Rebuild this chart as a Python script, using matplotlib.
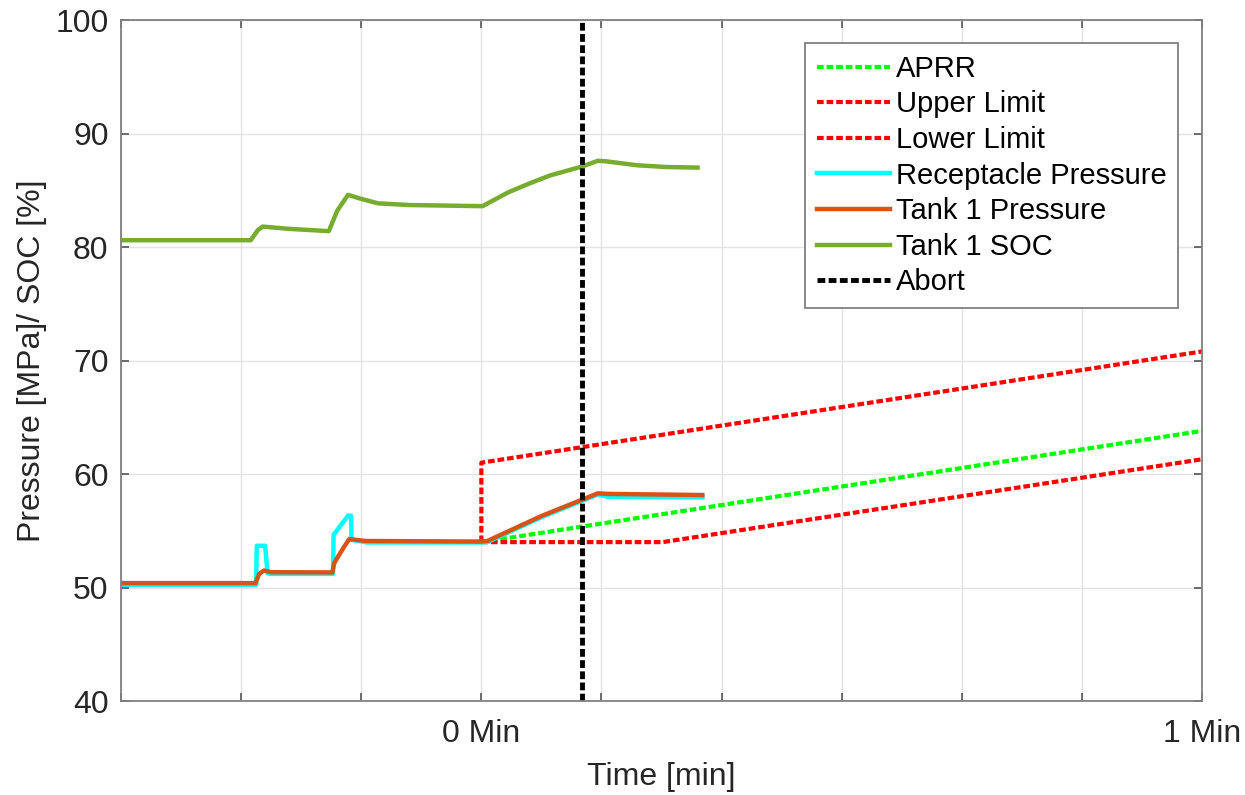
import matplotlib
matplotlib.use("Agg")
import matplotlib.pyplot as plt
import numpy as np

plt.rcParams.update({
    "font.family": ["Liberation Sans", "DejaVu Sans"],
    "font.size": 20,
})

# ── Time axis in seconds (0 = start of fill after the pause) ──
t_tank = [-30, -18.8, -18.5, -18.1, -17.5, -12.4, -12.25, -11.83, -11.42, -11.0,
          -9.6, 0.0, 0.5, 5.0, 9.7, 10.5, 18.4]
p_tank = [50.39, 50.39, 51.2, 51.5, 51.35, 51.33, 52.15, 52.9, 53.6, 54.27,
          54.1, 54.05, 54.1, 56.3, 58.3, 58.25, 58.15]

t_recep = [-30, -18.75, -18.7, -18.0, -17.8, -17.6, -12.35, -12.3, -11.1, -10.85,
           -10.8, -9.5, 0.0, 0.5, 5.0, 9.7, 10.5, 18.4]
p_recep = [50.24, 50.24, 53.68, 53.68, 51.27, 51.2, 51.2, 54.65, 56.33, 56.33,
           54.2, 53.97, 53.97, 54.0, 56.2, 58.2, 58.0, 57.95]

t_soc = [-30, -19.2, -18.6, -18.2, -16.0, -12.7, -12.0, -11.1, -10.2, -8.6,
         -6.0, 0.1, 2.2, 4.0, 5.7, 8.4, 9.7, 10.4, 13.0, 15.4, 18.0]
soc = [80.6, 80.6, 81.5, 81.8, 81.6, 81.4, 83.2, 84.6, 84.3, 83.85,
       83.7, 83.6, 84.8, 85.6, 86.3, 87.1, 87.6, 87.55, 87.2, 87.05, 87.0]

t_aprr = [0, 60]
p_aprr = [54.0, 63.8]

t_upper = [0, 0, 60]
p_upper = [54.0, 61.0, 70.8]

t_lower = [0, 15.1, 60]
p_lower = [54.0, 54.0, 61.3]

t_abort = 8.4

fig = plt.figure(figsize=(12.45, 7.95), dpi=100)
ax = fig.add_axes([0.0972, 0.1182, 0.8683, 0.8566])

dot = (0, (1.6, 0.7))
ax.plot(t_aprr, p_aprr, color="#00ff00", lw=3, ls=dot, label="APRR")
ax.plot(t_upper, p_upper, color="#ff0000", lw=3, ls=dot, label="Upper Limit")
ax.plot(t_lower, p_lower, color="#ff0000", lw=3, ls=dot, label="Lower Limit")
ax.plot(t_recep, p_recep, color="#00ffff", lw=3.2, label="Receptacle Pressure")
ax.plot(t_tank, p_tank, color="#d95319", lw=3.2, label="Tank 1 Pressure")
ax.plot(t_soc, soc, color="#77ac30", lw=3.2, label="Tank 1 SOC")
ax.axvline(t_abort, color="black", lw=3.5, ls=dot, label="Abort")

ax.set_xlim(-30, 60)
ax.set_ylim(40, 100)
ax.set_xticks(np.arange(-30, 61, 10))
ax.set_xticklabels(["" if v not in (0, 60) else f"{v // 60} Min" for v in range(-30, 61, 10)])
ax.set_yticks(np.arange(40, 101, 10))

ax.grid(True, color="#e3e3e3", lw=1)
ax.set_axisbelow(True)
for s in ax.spines.values():
    s.set_color("#808080")
    s.set_linewidth(1.3)
ax.tick_params(direction="in", top=True, right=True, length=6, width=1.2,
               colors="#555555", labelcolor="#262626", labelsize=23)
ax.tick_params(axis="x", pad=13)
ax.tick_params(axis="y", pad=9)

ax.set_xlabel("Time [min]", fontsize=23, color="#262626", labelpad=9)
ax.set_ylabel("Pressure [MPa]/ SOC [%]", fontsize=23, color="#262626", labelpad=6)

leg = ax.legend(loc="upper right", bbox_to_anchor=(0.978, 0.966), fontsize=21,
                frameon=True, fancybox=False, handlelength=2.5, handletextpad=0.2,
                labelspacing=0.26, borderpad=0.4, borderaxespad=0)
leg.get_frame().set_edgecolor("#808080")
leg.get_frame().set_linewidth(1.3)
leg.get_frame().set_alpha(1)

fig.savefig("out.png", dpi=100)
